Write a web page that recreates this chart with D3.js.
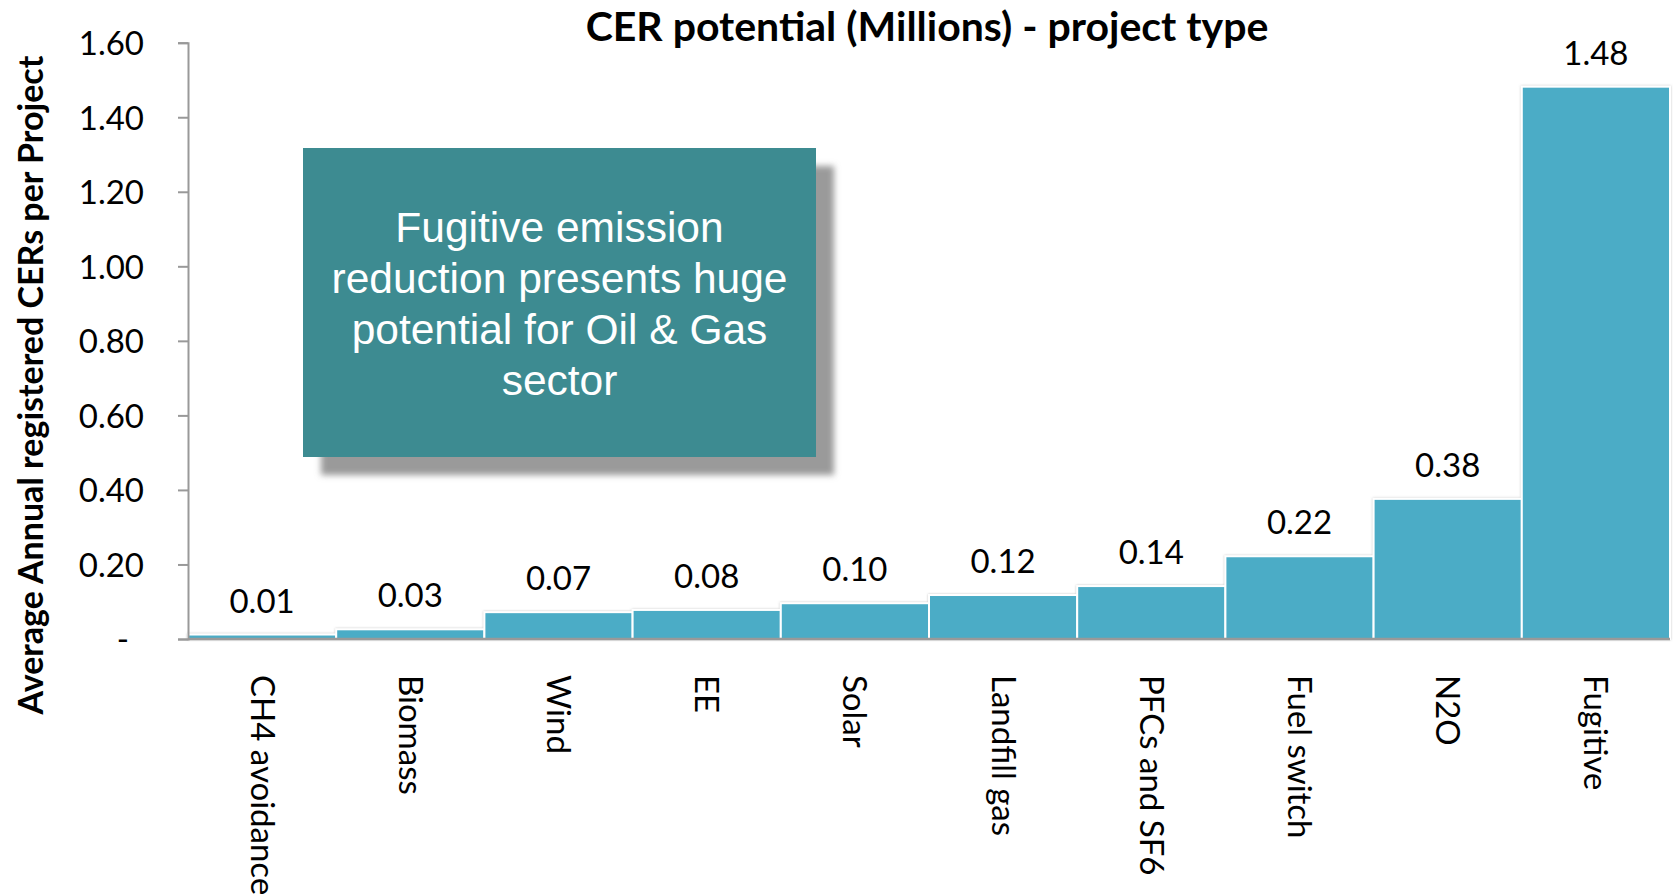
<!DOCTYPE html>
<html>
<head>
<meta charset="utf-8">
<script src="https://cdn.jsdelivr.net/npm/d3@7"></script>
<style>
    body { margin: 0; background: #fff; }
    svg { display: block; }
</style>
</head>
<body>
<div class="chart"></div>
<script>
const categories = ["CH4 avoidance", "Biomass", "Wind", "EE", "Solar", "Landfill gas", "PFCs and SF6", "Fuel switch", "N2O", "Fugitive"];
const values = [0.012, 0.026, 0.072, 0.078, 0.096, 0.118, 0.142, 0.222, 0.376, 1.482];
const yTicks = [0, 0.2, 0.4, 0.6, 0.8, 1.0, 1.2, 1.4, 1.6];
const noteLines = ["Fugitive emission", "reduction presents huge", "potential for Oil & Gas", "sector"];

const width = 1675;
const height = 896;
const margin = { top: 42.7, right: 5, bottom: 257, left: 188 };

const svg = d3.select(".chart")
    .append("svg")
    .attr("width", width)
    .attr("height", height);

const x = d3.scaleBand()
    .domain(categories)
    .range([margin.left, width - margin.right])
    .padding(0);

const y = d3.scaleLinear()
    .domain([0, 1.6])
    .range([height - margin.bottom, margin.top]);

const defs = svg.append("defs");
defs.append("filter")
    .attr("id", "blur")
    .attr("x", "-10%").attr("y", "-10%")
    .attr("width", "120%").attr("height", "120%")
    .append("feGaussianBlur")
    .attr("stdDeviation", 3);

defs.append("filter")
    .attr("id", "barShadow")
    .attr("x", "-5%").attr("y", "-5%")
    .attr("width", "110%").attr("height", "110%")
    .append("feDropShadow")
    .attr("dx", 0).attr("dy", 0)
    .attr("stdDeviation", 1.2)
    .attr("flood-color", "#888")
    .attr("flood-opacity", 0.5);

// bars
svg.append("g")
    .attr("filter", "url(#barShadow)")
    .selectAll("rect")
    .data(values)
    .join("rect")
    .attr("x", (d, i) => x(categories[i]))
    .attr("y", d => y(d))
    .attr("width", x.bandwidth())
    .attr("height", d => y(0) - y(d))
    .attr("fill", "#4BACC6")
    .attr("stroke", "#fff")
    .attr("stroke-width", 2);

// value labels
svg.append("g")
    .selectAll("text")
    .data(values)
    .join("text")
    .attr("x", (d, i) => x(categories[i]) + x.bandwidth() / 2)
    .attr("y", d => y(d) - 22)
    .attr("text-anchor", "middle")
    .style("font", "33px Lato, sans-serif")
    .attr("fill", "#000")
    .text(d => d.toFixed(2));

// y axis
const yAxis = svg.append("g")
    .attr("transform", `translate(${margin.left},0)`)
    .call(d3.axisLeft(y)
        .tickValues(yTicks)
        .tickSize(10)
        .tickPadding(34)
        .tickFormat(d => d === 0 ? "-" : d.toFixed(2)));
yAxis.select(".domain").attr("stroke", "#999").attr("stroke-width", 2);
yAxis.selectAll(".tick line").attr("stroke", "#999").attr("stroke-width", 2);
yAxis.selectAll(".tick text")
    .style("font", "33px Lato, sans-serif")
    .attr("fill", "#000")
    .attr("dy", "0.36em");
yAxis.selectAll(".tick text").filter(d => d === 0).attr("x", -59);

// x axis baseline
svg.append("line")
    .attr("x1", margin.left)
    .attr("x2", width - margin.right)
    .attr("y1", y(0))
    .attr("y2", y(0))
    .attr("stroke", "#999")
    .attr("stroke-width", 2.5);

// category labels
svg.append("g")
    .selectAll("text")
    .data(categories)
    .join("text")
    .attr("transform", d => `translate(${x(d) + x.bandwidth() / 2},${y(0) + 36}) rotate(90)`)
    .attr("dy", "0.35em")
    .style("font", "33px Lato, sans-serif")
    .attr("fill", "#000")
    .text(d => d);

// title
svg.append("text")
    .attr("x", 927)
    .attr("y", 41)
    .attr("text-anchor", "middle")
    .style("font", "bold 41px Lato, sans-serif")
    .text("CER potential (Millions) - project type");

// y axis title
svg.append("text")
    .attr("transform", "translate(31,385) rotate(-90)")
    .attr("text-anchor", "middle")
    .attr("dy", "0.35em")
    .style("font", "bold 34px Lato, sans-serif")
    .text("Average Annual registered CERs per Project");

// annotation box
const box = { x: 303, y: 148, w: 513, h: 309 };
svg.append("rect")
    .attr("x", box.x + 18)
    .attr("y", box.y + 18)
    .attr("width", box.w)
    .attr("height", box.h)
    .attr("fill", "#9a9a9a")
    .attr("filter", "url(#blur)");
svg.append("rect")
    .attr("x", box.x)
    .attr("y", box.y)
    .attr("width", box.w)
    .attr("height", box.h)
    .attr("fill", "#3D8B91");
svg.append("g")
    .selectAll("text")
    .data(noteLines)
    .join("text")
    .attr("x", box.x + box.w / 2)
    .attr("y", (d, i) => 242 + i * 51)
    .attr("text-anchor", "middle")
    .style("font", "42.5px 'Liberation Sans', Arial, sans-serif")
    .attr("fill", "#fff")
    .text(d => d);
</script>
</body>
</html>
